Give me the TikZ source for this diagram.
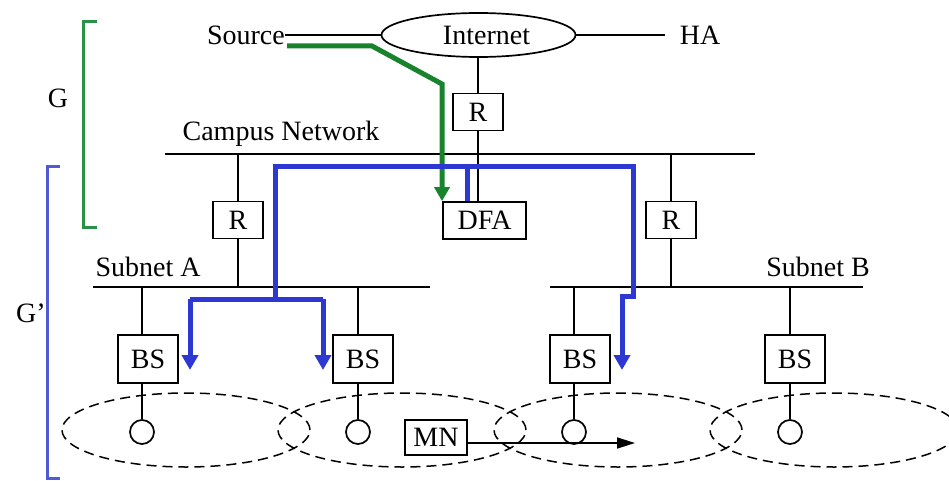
\documentclass[tikz,border=0pt]{standalone}
\usepackage{fontspec}
\setmainfont{Liberation Serif}
\usetikzlibrary{arrows.meta,shapes.geometric}
\definecolor{pathgreen}{RGB}{25,130,45}
\definecolor{pathblue}{RGB}{45,55,210}
\definecolor{brgreen}{RGB}{40,145,70}
\definecolor{brblue}{RGB}{80,90,215}
\begin{document}
\begin{tikzpicture}[x=1pt,y=-1pt,font=\fontsize{28}{32}\selectfont,
  wire/.style={line width=1.7pt},
  box/.style={draw,line width=1.7pt,inner sep=0pt,minimum height=37pt},
  lbl/.style={inner sep=0pt},
  station/.style={circle,draw,line width=1.7pt,minimum size=24pt,inner sep=0pt},
  cell/.style={draw,line width=1.5pt,dash pattern=on 10pt off 6pt},
  gpath/.style={draw=pathgreen,line width=5pt},
  bpath/.style={draw=pathblue,line width=5pt},
  btip/.style={-{Triangle[length=15pt,width=16pt]}},
  bracket/.style={line width=3pt}]
\useasboundingbox (0,0) rectangle (949,481);
% brackets
\draw[bracket,brgreen] (97,22) -- (83,22) -- (83,227) -- (97,227);
\node[lbl] (glab) at (58,98) {G};
\draw[bracket,brblue] (60,167) -- (47,167) -- (47,478) -- (60,478);
\node[lbl] (gplab) at (31,313) {G’};
% top
\node[ellipse,draw,line width=1.7pt,minimum width=194pt,minimum height=44pt,inner sep=0pt] (inet) at (478.5,35) {\hspace*{16pt}Internet};
\node[lbl,anchor=east] (src) at (285,35) {Source};
\node[inner ysep=0pt,inner xsep=15pt] (ha) at (700,35) {HA};
\draw[wire] (src.east) -- (inet.west);
\draw[wire] (inet.east) -- (ha.west);
\node[box,minimum width=50pt] (rtop) at (478,112) {R};
\draw[wire] (rtop.north |- inet.south) -- (rtop.north);
% campus network
\coordinate (cnL) at (165,154);
\coordinate (cnR) at (755,154);
\draw[wire] (cnL) -- (cnR);
\node[lbl] (cntext) at (281,134) {Campus Network};
\node[box,minimum width=83pt] (dfa) at (484.5,220.5) {DFA};
\draw[wire] (rtop.south) -- (rtop.south |- dfa.north);
% routers
\node[box,minimum width=50pt] (rl) at (238,220) {R};
\node[box,minimum width=50pt] (rr) at (671,220) {R};
% subnets
\coordinate (saL) at (93,287);
\coordinate (saR) at (430,287);
\coordinate (sbL) at (550,287);
\coordinate (sbR) at (863,287);
\draw[wire] (saL) -- (saR);
\draw[wire] (sbL) -- (sbR);
\node[lbl] (satext) at (148,267) {Subnet A};
\node[lbl] (sbtext) at (818,267) {Subnet B};
\draw[wire] (rl.north |- cnL) -- (rl.north);
\draw[wire] (rl.south) -- (rl.south |- saL);
\draw[wire] (rr.north |- cnL) -- (rr.north);
\draw[wire] (rr.south) -- (rr.south |- sbL);
% base stations
\node[box,minimum width=60pt,minimum height=48pt] (bs1) at (148,359) {BS};
\node[box,minimum width=60pt,minimum height=48pt] (bs2) at (363,359) {BS};
\node[box,minimum width=60pt,minimum height=48pt] (bs3) at (580,359) {BS};
\node[box,minimum width=60pt,minimum height=48pt] (bs4) at (795,359) {BS};
\node[station] (c1) at (142,432) {};
\node[station] (c2) at (358,432) {};
\node[station] (c3) at (574,432) {};
\node[station] (c4) at (790,432) {};
\foreach \i in {1,2,3,4}{
  \draw[wire] (c\i.north |- saL) -- (c\i.north |- bs\i.north);
  \draw[wire] (c\i.north |- bs\i.south) -- (c\i.north);
}
% cells
\draw[cell] (186,430) ellipse [x radius=124pt,y radius=37pt];
\draw[cell] (402,430) ellipse [x radius=124pt,y radius=37pt];
\draw[cell] (618,430) ellipse [x radius=124pt,y radius=37pt];
\draw[cell] (834,430) ellipse [x radius=124pt,y radius=37pt];
% mobile node
\node[box,minimum width=62pt,minimum height=35pt,fill=white] (mn) at (436,437.5) {MN};
\coordinate (mnend) at (635,443);
\draw[wire,-{Triangle[length=18pt,width=11pt]}] (mn.east |- mnend) -- (mnend);
% green path
\coordinate (g0) at (287,46);
\coordinate (g1) at (372,46);
\coordinate (g2) at (442,84);
\draw[gpath,-{Triangle[length=14pt,width=15pt]}] (g0) -- (g1) -- (g2) -- (g2 |- dfa.north);
% blue path
\coordinate (bx) at (467,167);
\coordinate (bl) at (275,167);
\coordinate (br) at (633,167);
\coordinate (bj) at (275,299);
\coordinate (ba1) at (190,370);
\coordinate (ba2) at (323,370);
\coordinate (bb) at (633,296);
\coordinate (bc) at (622,296);
\coordinate (ba3) at (622,370);
\draw[bpath] (bx |- dfa.north) -- (bx);
\draw[bpath,btip] (bj) -- (bl) -- (br) -- (bb) -- (bc) -- (ba3);
\draw[bpath,btip] (ba1 |- bj) -- (ba1);
\draw[bpath,btip] (ba2 |- bj) -- (ba2);
\draw[bpath] (ba1 |- bj) -- (ba2 |- bj);
\end{tikzpicture}
\end{document}
